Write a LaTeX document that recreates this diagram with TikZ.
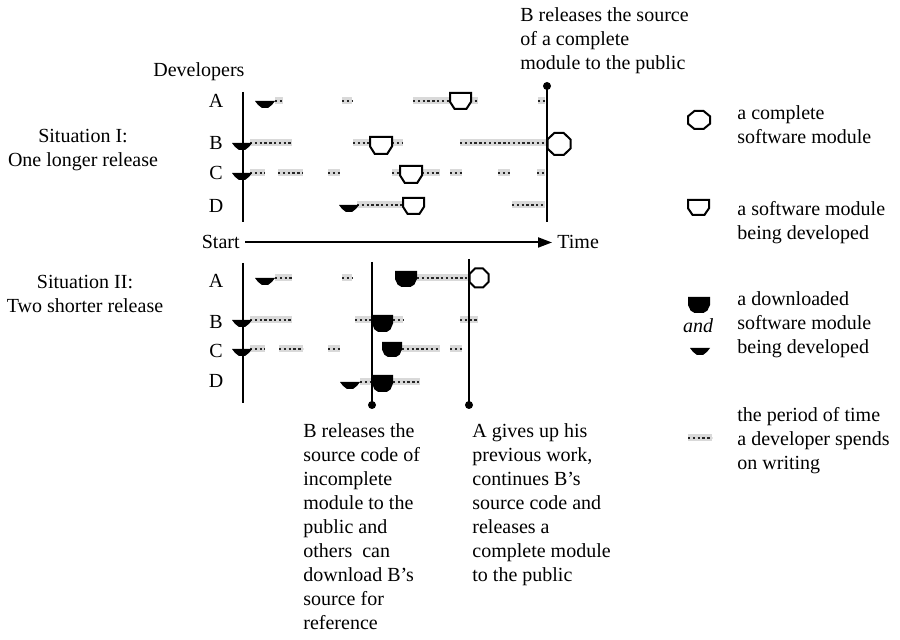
\documentclass[tikz,border=0pt]{standalone}
\usepackage{fontspec}
\setmainfont{Liberation Serif}
\usetikzlibrary{arrows.meta}
\newcommand\wseg[3]{\draw[band] (#1,#3) -- (#2,#3); \draw[dotsline] (#1,#3) -- (#2,#3);}
\begin{document}
\begin{tikzpicture}[x=0.5pt,y=-0.5pt,
  font=\fontsize{10}{12}\selectfont,
  txt/.style={inner sep=0pt, align=left, anchor=north west},
  lbl/.style={inner sep=0pt, anchor=base},
  band/.style={draw=gray!30, line width=3.5pt},
  dotsline/.style={draw=black!85, line width=1.3pt, dash pattern=on 1.2pt off 1.2pt},
  vline/.style={line width=1pt},
  enddot/.style={fill=black},
  shapeline/.style={line width=1pt, line join=miter},
  tarrow/.style={line width=1pt, -{Triangle[length=7pt,width=5pt]}, shorten <=2.5pt, shorten >=2.5pt},
  octa/.pic={\draw[shapeline,fill=white] (-.5,-.207)--(-.207,-.5)--(.207,-.5)--(.5,-.207)--(.5,.207)--(.207,.5)--(-.207,.5)--(-.5,.207)--cycle;},
  obowl/.pic={\draw[shapeline,fill=white] (0,0)--(1,0)--(1,.55)--(.78,1)--(.22,1)--(0,.55)--cycle;},
  fbowl/.pic={\fill[black] (0,0)--(1,0)--(1,.5)--(.88,.85)--(.7,1)--(.3,1)--(.12,.85)--(0,.5)--cycle;},
  hbowl/.pic={\fill[black] (0,0)--(1,0)--(.85,.55)--(.65,1)--(.35,1)--(.15,.55)--cycle;}
]
\useasboundingbox (0,0) rectangle (900,640);

% ---------------- texts ----------------
\node[txt] (topnote) at (520,7) {B releases the source\\of a complete\\module to the public};
\node[inner sep=0pt, anchor=base west] (dev) at (153,77) {Developers};
\node[inner sep=0pt, align=center, anchor=north] (sit1) at (83,129) {Situation I:\\One longer release};
\node[inner sep=0pt, align=center, anchor=north] (sit2) at (85,275) {Situation II:\\Two shorter release};

\node[lbl] (a1) at (216,108) {A};
\node[lbl] (b1) at (216,150) {B};
\node[lbl] (c1) at (216,180) {C};
\node[lbl] (d1) at (216,213) {D};
\node[lbl] (a2) at (216,288) {A};
\node[lbl] (b2) at (216,329) {B};
\node[lbl] (c2) at (216,358) {C};
\node[lbl] (d2) at (216,388) {D};

\node[inner sep=0pt, anchor=base east] (start) at (240,249) {Start};
\node[inner sep=0pt, anchor=base west] (time) at (557,249) {Time};
\draw[tarrow] (start) -- (time);

\node[txt] (note1) at (303,423) {B releases the\\source code of\\incomplete\\module to the\\public and\\others\ \ can\\download B’s\\source for\\reference};
\node[txt] (note2) at (472,423) {A gives up his\\previous work,\\continues B’s\\source code and\\releases a\\complete module\\to the public};

\node[txt] (leg1) at (737,105) {a complete\\software module};
\node[txt] (leg2) at (737,201) {a software module\\being developed};
\node[txt] (leg3) at (737,291) {a downloaded\\software module\\being developed};
\node[txt] (leg4) at (737,407) {the period of time\\a developer spends\\on writing};
\node[lbl, font=\fontsize{10}{12}\selectfont\itshape] (andtxt) at (698,333) {and};

% ---------------- Situation I ----------------
\wseg{275}{283}{101} \wseg{342}{352}{101} \wseg{413}{450}{101} \wseg{470}{478}{101} \wseg{538}{545}{101}
\wseg{250}{292}{143} \wseg{353}{370}{143} \wseg{392}{403}{143} \wseg{460}{547}{143}
\wseg{250}{265}{173} \wseg{278}{303}{173} \wseg{328}{340}{173} \wseg{392}{400}{173} \wseg{422}{440}{173} \wseg{450}{462}{173} \wseg{498}{510}{173} \wseg{537}{545}{173}
\wseg{357}{403}{205} \wseg{512}{545}{205}

\coordinate (ax1top) at (243,92);
\coordinate (ax1bot) at (243,222);
\draw[vline] (ax1top) -- (ax1bot);
\coordinate (rel1top) at (547,86);
\coordinate (rel1bot) at (547,222);
\draw[vline] (rel1top) -- (rel1bot);
\fill[enddot] (rel1top) circle (2pt);

\pic[xscale=20,yscale=7] at (255,101) {hbowl};
\pic[xscale=21,yscale=16] at (450,93) {obowl};
\pic[xscale=20,yscale=7] at (232,143) {hbowl};
\pic[xscale=22,yscale=17] at (370,137) {obowl};
\pic[xscale=23,yscale=22] at (559,144) {octa};
\pic[xscale=20,yscale=7] at (232,173) {hbowl};
\pic[xscale=22,yscale=17] at (400,166) {obowl};
\pic[xscale=20,yscale=7] at (339,205) {hbowl};
\pic[xscale=21,yscale=16] at (403,198) {obowl};

% ---------------- Situation II ----------------
\wseg{275}{292}{278} \wseg{342}{352}{278} \wseg{417}{470}{278}
\wseg{250}{292}{320} \wseg{355}{372}{320} \wseg{393}{403}{320} \wseg{460}{478}{320}
\wseg{250}{265}{349} \wseg{279}{303}{349} \wseg{328}{340}{349} \wseg{402}{440}{349} \wseg{450}{462}{349}
\wseg{360}{372}{382} \wseg{393}{420}{382}

\coordinate (ax2top) at (243,263);
\coordinate (ax2bot) at (243,403);
\draw[vline] (ax2top) -- (ax2bot);
\coordinate (rel2top) at (372,262);
\coordinate (rel2bot) at (372,405);
\draw[vline] (rel2top) -- (rel2bot);
\fill[enddot] (rel2bot) circle (2pt);
\coordinate (rel3top) at (469,259);
\coordinate (rel3bot) at (469,405);
\draw[vline] (rel3top) -- (rel3bot);
\fill[enddot] (rel3bot) circle (2pt);

\pic[xscale=20,yscale=7] at (255,278) {hbowl};
\pic[xscale=22,yscale=16] at (395,271) {fbowl};
\pic[xscale=19,yscale=19] at (479,278) {octa};
\pic[xscale=20,yscale=7] at (232,320) {hbowl};
\pic[xscale=21,yscale=17] at (372,315) {fbowl};
\pic[xscale=20,yscale=7] at (232,349) {hbowl};
\pic[xscale=20,yscale=15] at (382,342) {fbowl};
\pic[xscale=20,yscale=7] at (340,382) {hbowl};
\pic[xscale=21,yscale=17] at (372,375) {fbowl};

% ---------------- legend ----------------
\pic[xscale=22,yscale=18] at (699,120) {octa};
\pic[xscale=21,yscale=15] at (688,200) {obowl};
\pic[xscale=22,yscale=16] at (688,297) {fbowl};
\pic[xscale=20,yscale=7] at (690,348) {hbowl};
\wseg{688}{712}{438}
\end{tikzpicture}
\end{document}
